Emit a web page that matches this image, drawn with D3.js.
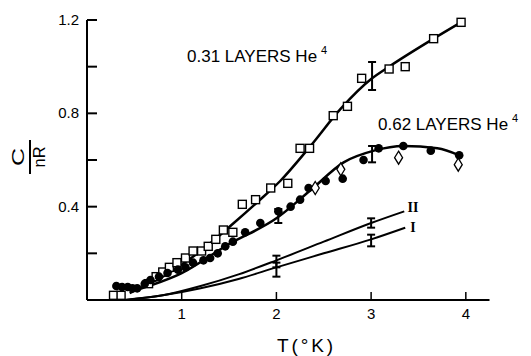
<!DOCTYPE html>
<html>
<head>
<meta charset="utf-8">
<script src="https://cdn.jsdelivr.net/npm/d3@7"></script>
<style>
	body { margin: 0; background: white; }
	text { font-family: "Liberation Sans", Arial, sans-serif; fill: black; }
</style>
</head>
<body>
<script>
var w = 531, h = 356;

// 0.31 layers He4 (open squares)
var sqT = [0.28, 0.36, 0.65, 0.73, 0.80, 0.87, 0.95, 1.04, 1.12, 1.21, 1.28, 1.36, 1.44, 1.54, 1.64, 1.78, 1.94, 2.12, 2.25, 2.35, 2.60, 2.75, 2.90, 3.19, 3.36, 3.66, 3.95];
var sqV = [0.02, 0.02, 0.07, 0.10, 0.12, 0.14, 0.16, 0.18, 0.21, 0.21, 0.23, 0.26, 0.30, 0.29, 0.41, 0.43, 0.48, 0.50, 0.65, 0.65, 0.79, 0.83, 0.95, 0.99, 1.00, 1.12, 1.19];
var sqFitT = [0.45, 0.80, 1.20, 1.55, 1.80, 2.04, 2.36, 2.68, 3.01, 3.19, 3.66, 3.95];
var sqFitV = [0.03, 0.10, 0.21, 0.33, 0.42, 0.51, 0.66, 0.82, 0.95, 1.00, 1.12, 1.19];

// 0.62 layers He4 (filled circles, diamonds)
var ciT = [0.31, 0.37, 0.43, 0.48, 0.53, 0.61, 0.67, 0.76, 0.85, 0.96, 1.04, 1.12, 1.23, 1.30, 1.38, 1.46, 1.54, 1.67, 1.83, 2.02, 2.15, 2.25, 2.34, 2.52, 2.70, 2.92, 3.08, 3.34, 3.63, 3.93];
var ciV = [0.06, 0.056, 0.056, 0.05, 0.05, 0.07, 0.086, 0.10, 0.116, 0.13, 0.14, 0.16, 0.17, 0.18, 0.20, 0.23, 0.25, 0.29, 0.33, 0.38, 0.40, 0.43, 0.48, 0.51, 0.52, 0.60, 0.65, 0.66, 0.64, 0.62];
var diT = [2.41, 2.68, 3.29, 3.92];
var diV = [0.48, 0.56, 0.61, 0.58];
var ciFitT = [0.50, 1.00, 1.50, 2.00, 2.36, 2.71, 3.03, 3.34, 3.70, 3.93];
var ciFitV = [0.04, 0.115, 0.24, 0.35, 0.47, 0.59, 0.64, 0.66, 0.65, 0.62];

// curves I and II
var c2T = [0.40, 0.80, 1.20, 1.60, 2.00, 2.50, 3.00, 3.35];
var c2V = [0.00, 0.02, 0.06, 0.11, 0.17, 0.25, 0.33, 0.38];
var c1T = [0.40, 0.80, 1.20, 1.60, 2.00, 2.50, 3.00, 3.36];
var c1V = [0.00, 0.02, 0.05, 0.09, 0.14, 0.20, 0.26, 0.31];

// error bars: T, low, high
var errT = [3.01, 2.02, 3.01, 2.00, 3.00, 2.00, 3.00];
var errLo = [0.90, 0.33, 0.59, 0.14, 0.31, 0.10, 0.23];
var errHi = [1.02, 0.39, 0.66, 0.19, 0.35, 0.16, 0.28];

var xTicks = [1, 2, 3, 4];
var yTicks = [0.2, 0.4, 0.6, 0.8, 1.0, 1.2];
var yLabels = [0.4, 0.8, 1.2];

var x = d3.scaleLinear().domain([0, 4.25]).range([87, 489.5]);
var y = d3.scaleLinear().domain([0, 1.2]).range([300, 20]);

var svg = d3.select("body")
		.append("svg")
		.attr("width", w)
		.attr("height", h);

// axes
svg.append("line")
	.attr("x1", x(0)).attr("x2", x(0))
	.attr("y1", y(0)).attr("y2", y(1.2))
	.attr("stroke", "black").attr("stroke-width", 2);
svg.append("line")
	.attr("x1", x(0)).attr("x2", x(4.25))
	.attr("y1", y(0)).attr("y2", y(0))
	.attr("stroke", "black").attr("stroke-width", 2);

svg.selectAll(".ytick").data(yTicks).enter().append("line")
	.attr("x1", x(0)).attr("x2", x(0) + 10)
	.attr("y1", function(d) { return y(d); })
	.attr("y2", function(d) { return y(d); })
	.attr("stroke", "black").attr("stroke-width", 2);
svg.selectAll(".xtick").data(xTicks).enter().append("line")
	.attr("x1", function(d) { return x(d); })
	.attr("x2", function(d) { return x(d); })
	.attr("y1", y(0)).attr("y2", y(0) - 8)
	.attr("stroke", "black").attr("stroke-width", 1.5);

svg.selectAll(".ylab").data(yLabels).enter().append("text")
	.attr("x", 79)
	.attr("y", function(d) { return y(d) + 5; })
	.attr("text-anchor", "end")
	.attr("font-size", 15)
	.text(function(d) { return d.toFixed(1); });
svg.selectAll(".xlab").data(xTicks).enter().append("text")
	.attr("x", function(d) { return x(d); })
	.attr("y", 319)
	.attr("text-anchor", "middle")
	.attr("font-size", 15)
	.text(function(d) { return d; });

svg.append("text")
	.attr("x", 305).attr("y", 352)
	.attr("text-anchor", "middle")
	.attr("font-size", 19)
	.attr("textLength", 56)
	.text("T(°K)");

// C / nR label, rotated
var yl = svg.append("g").attr("transform", "translate(30,157) rotate(-90)");
yl.append("text").attr("x", 0).attr("y", -6)
	.attr("text-anchor", "middle").attr("font-size", 17)
	.attr("textLength", 18).attr("lengthAdjust", "spacingAndGlyphs").text("C");
yl.append("line").attr("x1", -17).attr("x2", 17).attr("y1", 0).attr("y2", 0)
	.attr("stroke", "black").attr("stroke-width", 2);
yl.append("text").attr("x", 0).attr("y", 15)
	.attr("text-anchor", "middle").attr("font-size", 17)
	.attr("textLength", 21).attr("lengthAdjust", "spacingAndGlyphs").text("nR");

// fitted curves
function curve(ts, vs, sw) {
	var pts = ts.map(function(t, i) { return [x(t), y(vs[i])]; });
	svg.append("path")
		.attr("d", d3.line().curve(d3.curveMonotoneX)(pts))
		.attr("fill", "none")
		.attr("stroke", "black")
		.attr("stroke-width", sw);
}
curve(sqFitT, sqFitV, 2.5);
curve(ciFitT, ciFitV, 2.5);
curve(c2T, c2V, 2);
curve(c1T, c1V, 2);

// error bars
errT.forEach(function(t, i) {
	var g = svg.append("g").attr("stroke", "black").attr("stroke-width", 2);
	g.append("line").attr("x1", x(t)).attr("x2", x(t)).attr("y1", y(errLo[i])).attr("y2", y(errHi[i]));
	g.append("line").attr("x1", x(t) - 4).attr("x2", x(t) + 4).attr("y1", y(errLo[i])).attr("y2", y(errLo[i]));
	g.append("line").attr("x1", x(t) - 4).attr("x2", x(t) + 4).attr("y1", y(errHi[i])).attr("y2", y(errHi[i]));
});

// markers
svg.selectAll(".sq").data(sqT).enter().append("rect")
	.attr("x", function(d) { return x(d) - 4; })
	.attr("y", function(d, i) { return y(sqV[i]) - 4; })
	.attr("width", 8).attr("height", 8)
	.attr("fill", "white").attr("stroke", "black").attr("stroke-width", 1.4);
svg.selectAll(".ci").data(ciT).enter().append("circle")
	.attr("cx", function(d) { return x(d); })
	.attr("cy", function(d, i) { return y(ciV[i]); })
	.attr("r", 4.3)
	.attr("fill", "black");
svg.selectAll(".di").data(diT).enter().append("path")
	.attr("d", function(d, i) {
		var cx = x(d), cy = y(diV[i]);
		return "M" + cx + "," + (cy - 6.5) + "L" + (cx + 4) + "," + cy + "L" + cx + "," + (cy + 6.5) + "L" + (cx - 4) + "," + cy + "Z";
	})
	.attr("fill", "white").attr("stroke", "black").attr("stroke-width", 1.3);

// annotations
function layerLabel(px, py, s) {
	var t = svg.append("text").attr("x", px).attr("y", py).attr("font-size", 17);
	t.append("tspan").text(s);
	t.append("tspan").attr("font-size", 11).attr("dx", 4).attr("dy", -8).text("4");
}
layerLabel(187, 62, "0.31 LAYERS He");
layerLabel(378, 130, "0.62 LAYERS He");

svg.append("text").attr("x", 413).attr("y", 212).attr("text-anchor", "middle")
	.attr("font-size", 14).attr("font-weight", "bold")
	.style("font-family", "'Liberation Serif', serif").text("II");
svg.append("text").attr("x", 413).attr("y", 232).attr("text-anchor", "middle")
	.attr("font-size", 14).attr("font-weight", "bold")
	.style("font-family", "'Liberation Serif', serif").text("I");
</script>
</body>
</html>
